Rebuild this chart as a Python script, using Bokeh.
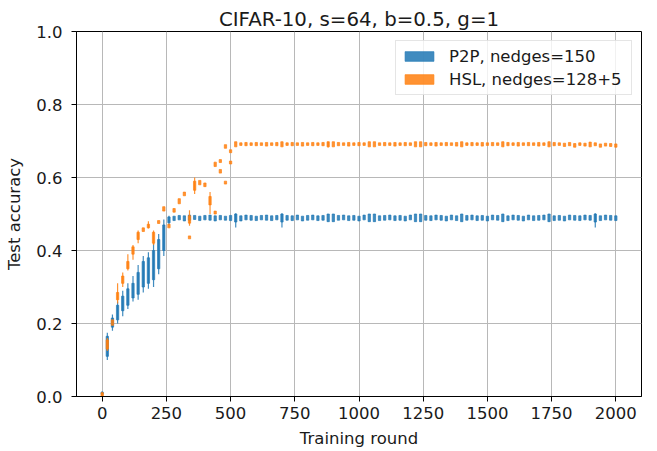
from bokeh.plotting import figure
from bokeh.models import ColumnDataSource, Legend, LegendItem, FixedTicker, Range1d
from bokeh.embed import file_html
from bokeh.resources import INLINE

# ---------------- data ----------------
title_text = "CIFAR-10, s=64, b=0.5, g=1"
x_label = "Training round"
y_label = "Test accuracy"
series_labels = ["P2P, nedges=150", "HSL, nedges=128+5"]
x_ticks = [0, 250, 500, 750, 1000, 1250, 1500, 1750, 2000]
y_ticks = [0.0, 0.2, 0.4, 0.6, 0.8, 1.0]
y_tick_labels = ["0.0", "0.2", "0.4", "0.6", "0.8", "1.0"]

rounds = list(range(0, 2001, 20))

p2p_q1 = [0.006, 0.110, 0.190, 0.210, 0.235, 0.250, 0.270, 0.280, 0.300, 0.310, 0.320, 0.350, 0.400, 0.476,
          0.482, 0.484, 0.481, 0.483, 0.485, 0.482, 0.484, 0.483, 0.481, 0.484, 0.483, 0.482,
          0.478, 0.481, 0.484, 0.483, 0.482, 0.484, 0.483, 0.482, 0.484, 0.478,
          0.483, 0.482, 0.484, 0.481, 0.483, 0.484, 0.482, 0.483, 0.479, 0.479,
          0.483, 0.484, 0.482, 0.483, 0.481, 0.484, 0.479, 0.479, 0.482, 0.483,
          0.484, 0.482, 0.483, 0.481, 0.484, 0.479, 0.479, 0.483, 0.482, 0.484,
          0.483, 0.481, 0.484, 0.482, 0.479, 0.483, 0.484, 0.482, 0.483, 0.481,
          0.484, 0.483, 0.479, 0.482, 0.484, 0.483, 0.481, 0.484, 0.482, 0.483,
          0.484, 0.479, 0.482, 0.483, 0.481, 0.484, 0.483, 0.482, 0.484, 0.483,
          0.478, 0.482, 0.484, 0.483, 0.482]
p2p_q3 = [0.012, 0.165, 0.215, 0.250, 0.275, 0.295, 0.310, 0.340, 0.370, 0.380, 0.400, 0.430, 0.470, 0.492,
          0.494, 0.496, 0.495, 0.497, 0.496, 0.494, 0.496, 0.497, 0.495, 0.496, 0.494, 0.496,
          0.500, 0.495, 0.497, 0.496, 0.494, 0.496, 0.497, 0.495, 0.496, 0.500,
          0.496, 0.495, 0.497, 0.494, 0.496, 0.497, 0.495, 0.496, 0.500, 0.500,
          0.496, 0.497, 0.495, 0.496, 0.494, 0.497, 0.500, 0.500, 0.495, 0.496,
          0.497, 0.495, 0.496, 0.494, 0.497, 0.500, 0.500, 0.496, 0.495, 0.497,
          0.496, 0.494, 0.497, 0.495, 0.500, 0.496, 0.497, 0.495, 0.496, 0.494,
          0.497, 0.496, 0.500, 0.495, 0.497, 0.496, 0.494, 0.497, 0.495, 0.496,
          0.497, 0.500, 0.495, 0.496, 0.494, 0.497, 0.496, 0.495, 0.497, 0.496,
          0.500, 0.495, 0.497, 0.496, 0.495]
p2p_wh_rounds = [0, 20, 40, 60, 80, 100, 120, 140, 160, 180, 200, 220, 240, 260, 520, 700, 1920]
p2p_wh_lo = [0.004, 0.100, 0.180, 0.200, 0.220, 0.240, 0.260, 0.265, 0.285, 0.295, 0.300, 0.335, 0.385, 0.470, 0.463, 0.463, 0.463]
p2p_wh_hi = [0.014, 0.175, 0.225, 0.260, 0.290, 0.310, 0.330, 0.360, 0.385, 0.395, 0.420, 0.445, 0.485, 0.495, 0.502, 0.502, 0.502]

hsl_q1 = [0.000, 0.130, 0.195, 0.265, 0.310, 0.350, 0.390, 0.430, 0.452, 0.462, 0.420, 0.474, 0.508,
          0.462, 0.505, 0.528, 0.550, 0.475, 0.565, 0.580, 0.575, 0.525, 0.630, 0.612, 0.680, 0.668,
          0.684, 0.688, 0.687, 0.688, 0.687, 0.688, 0.686, 0.688, 0.687, 0.684,
          0.688, 0.687, 0.688, 0.686, 0.688, 0.687, 0.688, 0.687, 0.684, 0.684,
          0.687, 0.688, 0.686, 0.688, 0.687, 0.688, 0.684, 0.684, 0.688, 0.687,
          0.688, 0.686, 0.688, 0.687, 0.688, 0.684, 0.684, 0.687, 0.688, 0.686,
          0.688, 0.687, 0.688, 0.686, 0.684, 0.688, 0.687, 0.688, 0.686, 0.688,
          0.687, 0.688, 0.684, 0.687, 0.688, 0.686, 0.688, 0.687, 0.688, 0.686,
          0.688, 0.684, 0.687, 0.688, 0.685, 0.687, 0.683, 0.688, 0.686, 0.684,
          0.687, 0.683, 0.686, 0.685, 0.683]
hsl_q3 = [0.010, 0.155, 0.210, 0.285, 0.330, 0.370, 0.410, 0.450, 0.462, 0.472, 0.450, 0.482, 0.520,
          0.472, 0.515, 0.542, 0.560, 0.495, 0.590, 0.592, 0.585, 0.548, 0.642, 0.622, 0.690, 0.676,
          0.698, 0.695, 0.696, 0.695, 0.696, 0.695, 0.696, 0.695, 0.696, 0.698,
          0.695, 0.696, 0.695, 0.696, 0.695, 0.696, 0.695, 0.696, 0.698, 0.698,
          0.696, 0.695, 0.696, 0.695, 0.696, 0.695, 0.698, 0.698, 0.695, 0.696,
          0.695, 0.696, 0.695, 0.696, 0.695, 0.698, 0.698, 0.696, 0.695, 0.696,
          0.695, 0.696, 0.695, 0.696, 0.698, 0.695, 0.696, 0.695, 0.696, 0.695,
          0.696, 0.695, 0.698, 0.696, 0.695, 0.696, 0.695, 0.696, 0.695, 0.696,
          0.695, 0.698, 0.696, 0.695, 0.694, 0.696, 0.693, 0.695, 0.694, 0.697,
          0.695, 0.692, 0.694, 0.693, 0.692]
hsl_wh_rounds = [0, 20, 60, 80, 100, 120, 140, 180, 200, 340, 360, 420, 880]
hsl_wh_lo = [0.000, 0.125, 0.255, 0.300, 0.345, 0.375, 0.420, 0.460, 0.415, 0.468, 0.555, 0.500, 0.682]
hsl_wh_hi = [0.012, 0.160, 0.310, 0.340, 0.390, 0.415, 0.455, 0.480, 0.455, 0.510, 0.600, 0.560, 0.698]
hsl_out_rounds = [340, 440, 460, 480, 500]
hsl_out_vals = [0.436, 0.504, 0.645, 0.586, 0.641]

# ---------------- style ----------------
BLUE = "#1f77b4"
ORANGE = "#ff7f0e"
FONT = "DejaVu Sans"
TXT = "#1a1a1a"
BOX_W = 9
ALPHA = 0.85

p = figure(width=657, height=451, x_range=Range1d(-100, 2100), y_range=Range1d(0, 1),
           output_backend="svg", toolbar_location=None, title=title_text,
           min_border_left=76, min_border_right=16, min_border_top=31, min_border_bottom=55)
p.title.align = "center"
p.title.text_font = FONT
p.title.text_font_size = "19.8px"
p.title.text_font_style = "normal"
p.title.text_color = TXT
p.title.standoff = 2

p.background_fill_color = "white"
p.border_fill_color = "white"
p.outline_line_color = "black"
p.outline_line_width = 1
p.outline_line_alpha = 1

for ax in (p.xaxis[0], p.yaxis[0]):
    ax.axis_line_color = "black"
    ax.major_tick_line_color = "black"
    ax.major_tick_out = 5
    ax.major_tick_in = 0
    ax.minor_tick_line_color = None
    ax.major_label_text_font = FONT
    ax.major_label_text_font_size = "16.5px"
    ax.major_label_text_color = TXT
    ax.axis_label_text_font = FONT
    ax.axis_label_text_font_size = "16.5px"
    ax.axis_label_text_font_style = "normal"
    ax.axis_label_text_color = TXT

p.xaxis.ticker = FixedTicker(ticks=x_ticks)
p.xaxis.major_label_overrides = {t: str(t) for t in x_ticks}
p.yaxis.ticker = FixedTicker(ticks=y_ticks)
p.yaxis.major_label_overrides = {t: l for t, l in zip(y_ticks, y_tick_labels)}
p.xaxis.axis_label = x_label
p.yaxis.axis_label = y_label
p.xaxis.major_label_standoff = 5
p.xaxis.axis_label_standoff = 7
p.yaxis.major_label_standoff = 9
p.yaxis.axis_label_standoff = 9

p.xgrid.ticker = FixedTicker(ticks=x_ticks)
p.ygrid.ticker = FixedTicker(ticks=y_ticks)
for g in (p.xgrid[0], p.ygrid[0]):
    g.grid_line_color = "#b8b8b8"
    g.grid_line_width = 1

def draw(color, q1, q3, wr, wlo, whi):
    src = ColumnDataSource(dict(x=rounds, q1=q1, q3=q3))
    wsrc = ColumnDataSource(dict(x=wr, lo=wlo, hi=whi))
    p.segment(x0="x", y0="lo", x1="x", y1="hi", source=wsrc,
              line_color=color, line_alpha=ALPHA, line_width=1.2)
    r = p.vbar(x="x", width=BOX_W, bottom="q1", top="q3", source=src,
               fill_color=color, fill_alpha=ALPHA, line_color=color, line_alpha=ALPHA, line_width=0.8)
    return r

r_p2p = draw(BLUE, p2p_q1, p2p_q3, p2p_wh_rounds, p2p_wh_lo, p2p_wh_hi)
r_hsl = draw(ORANGE, hsl_q1, hsl_q3, hsl_wh_rounds, hsl_wh_lo, hsl_wh_hi)
osrc = ColumnDataSource(dict(x=hsl_out_rounds,
                             lo=[v - 0.004 for v in hsl_out_vals],
                             hi=[v + 0.004 for v in hsl_out_vals]))
p.vbar(x="x", width=BOX_W, bottom="lo", top="hi", source=osrc,
       fill_color=ORANGE, fill_alpha=ALPHA, line_color=ORANGE, line_alpha=ALPHA, line_width=0.8)

legend = Legend(items=[LegendItem(label=series_labels[0], renderers=[r_p2p]),
                       LegendItem(label=series_labels[1], renderers=[r_hsl])],
                location="top_right", margin=9, padding=5, spacing=3,
                label_height=20, glyph_width=36, glyph_height=12, label_standoff=12,
                label_width=177)
legend.label_text_font = FONT
legend.label_text_font_size = "16.5px"
legend.label_text_color = TXT
legend.border_line_color = "#cccccc"
legend.border_line_width = 1
legend.background_fill_alpha = 0.8
p.add_layout(legend)

open("out.html", "w").write(file_html(p, INLINE))
